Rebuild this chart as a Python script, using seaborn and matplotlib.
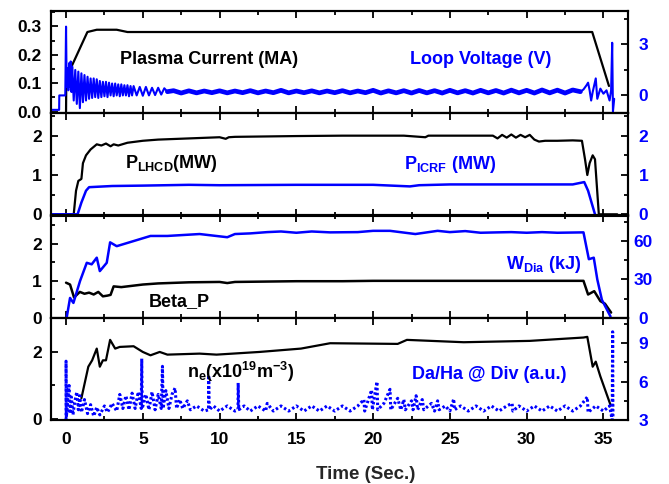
import matplotlib
matplotlib.use("Agg")
import matplotlib.pyplot as plt
from matplotlib.ticker import MultipleLocator
import seaborn as sns

# ---------------- data ----------------
# Panel 1: plasma current (MA, left) and loop voltage (V, right)
ip_t = [0.0, 0.02, 0.37, 1.39, 2.0, 3.3, 4.0, 10, 20, 30, 34.27, 35.36]
ip_v = [0.0, 0.14, 0.16, 0.28, 0.288, 0.288, 0.28, 0.28, 0.28, 0.28, 0.28, 0.09]

# loop voltage: start-up oscillation
vl_t = [-0.98, -0.45, -0.44, -0.05, 0.0, 0.04, 0.1, 0.15, 0.2, 0.25, 0.3, 0.35, 0.4, 0.5,
        0.6, 0.7, 0.8, 0.9, 1.0, 1.1, 1.2, 1.3, 1.4, 1.5, 1.6, 1.7, 1.8, 1.9, 2.0, 2.1,
        2.2, 2.3, 2.4, 2.5, 2.6, 2.7, 2.8, 2.9, 3.0, 3.1, 3.2, 3.3, 3.4, 3.5, 3.6, 3.7,
        3.8, 3.9, 4.0, 4.1, 4.2, 4.3, 4.4, 4.6, 4.8, 5.0, 5.2, 5.4, 5.6, 5.8, 6.0, 6.2,
        6.4, 6.6]
vl_v = [-0.85, -0.85, 0.0, 0.0, 4.05, 0.5, 1.6, 0.3, 1.9, 0.5, 2.0, 0.2, 1.7, -0.3,
        1.5, -0.5, 1.4, -0.75, 1.3, -0.4, 1.2, -0.3, 1.1, -0.2, 1.0, -0.15, 1.0, -0.1,
        0.95, -0.15, 0.85, -0.1, 0.8, -0.05, 0.8, -0.1, 0.75, 0.0, 0.7, -0.05, 0.7, 0.0,
        0.65, -0.05, 0.65, 0.0, 0.6, 0.0, 0.6, -0.05, 0.55, 0.0, 0.55, 0.0, 0.5, -0.02,
        0.5, 0.0, 0.45, 0.02, 0.45, 0.05, 0.42, 0.22]
# loop voltage: flat-top (noisy band)
vlf_t = [6.6, 7.0, 7.5, 8.0, 8.5, 9.0, 9.5, 10.0, 10.5, 11.0, 11.5, 12.0, 12.5, 13.0,
         13.5, 14.0, 14.5, 15.0, 15.5, 16.0, 16.5, 17.0, 17.5, 18.0, 18.5, 19.0, 19.5,
         20.0, 20.5, 21.0, 21.5, 22.0, 22.5, 23.0, 23.5, 24.0, 24.5, 25.0, 25.5, 26.0,
         26.5, 27.0, 27.5, 28.0, 28.5, 29.0, 29.5, 30.0, 30.5, 31.0, 31.5, 32.0, 32.5,
         33.0, 33.5]
vlf_v = [0.22, 0.28, 0.14, 0.27, 0.15, 0.26, 0.16, 0.27, 0.15, 0.26, 0.16, 0.28, 0.15,
         0.26, 0.16, 0.3, 0.15, 0.26, 0.16, 0.27, 0.15, 0.26, 0.16, 0.28, 0.15, 0.26,
         0.16, 0.3, 0.14, 0.27, 0.15, 0.28, 0.14, 0.29, 0.15, 0.28, 0.14, 0.3, 0.15,
         0.28, 0.14, 0.3, 0.15, 0.29, 0.14, 0.31, 0.15, 0.3, 0.14, 0.32, 0.15, 0.31,
         0.14, 0.32, 0.22]
# loop voltage: termination
vle_t = [33.5, 33.7, 33.9, 34.0, 34.1, 34.2, 34.3, 34.5, 34.6, 34.8, 35.0, 35.2, 35.4,
         35.5, 35.57, 35.62, 35.7]
vle_v = [0.22, 0.35, 0.6, 0.75, 0.3, -0.3, 0.2, 1.0, -0.2, 0.4, 0.1, 0.3, -0.3, 0.3,
         3.1, -0.95, -0.2]

# Panel 2: P_LHCD and P_ICRF (MW)
lh_t = [-0.98, 0.5, 0.65, 0.8, 1.0, 1.1, 1.3, 1.6, 2.0, 2.3, 2.6, 2.9, 3.1, 3.4, 4, 5, 6,
        8, 10, 10.4, 10.6, 11, 13, 15, 18, 20, 22, 23.4, 23.6, 26, 27.8, 28.1, 28.4, 28.7,
        29.0, 29.3, 29.6, 29.9, 30.2, 30.5, 30.8, 31.2, 32, 33, 33.6, 33.8, 33.95, 34.1,
        34.3, 34.45, 34.7, 35.0, 35.9]
lh_v = [0, 0, 0.6, 0.85, 0.9, 1.3, 1.5, 1.65, 1.78, 1.75, 1.8, 1.73, 1.78, 1.75, 1.82,
        1.87, 1.9, 1.93, 1.96, 1.92, 1.96, 1.97, 1.98, 1.99, 2.0, 2.0, 2.0, 1.96, 2.0, 2.0,
        2.0, 1.93, 2.02, 1.95, 2.03, 1.95, 2.02, 1.96, 2.02, 1.9, 1.85, 1.87, 1.87, 1.88,
        1.87, 1.4, 1.0, 1.3, 1.5, 1.4, 0.0, 0.0, 0.0]

ic_t = [-0.98, 0.75, 1.0, 1.3, 1.5, 2, 3, 5, 8, 10, 15, 20, 22.4, 23, 25, 28, 30, 33.0,
        33.75, 34.0, 34.45]
ic_v = [0, 0, 0.3, 0.6, 0.69, 0.7, 0.72, 0.73, 0.75, 0.74, 0.75, 0.75, 0.71, 0.74, 0.76,
        0.76, 0.76, 0.76, 0.82, 0.6, 0.0]

# Panel 3: Beta_P (left) and W_Dia (kJ, right)
bp_t = [0.0, 0.26, 0.52, 0.9, 1.2, 1.5, 1.8, 2.1, 2.4, 2.7, 2.9, 3.1, 3.6, 4.0, 5.0, 6.0,
        8.0, 10.0, 10.5, 11.0, 13, 15, 18, 20, 25, 30, 33.7, 34.0, 34.4, 34.8, 35.1, 35.5]
bp_v = [0.95, 0.9, 0.55, 0.7, 0.65, 0.68, 0.63, 0.7, 0.58, 0.6, 0.62, 0.85, 0.83, 0.85,
        0.9, 0.93, 0.96, 0.97, 0.94, 0.97, 0.98, 0.99, 0.99, 1.0, 1.0, 1.0, 1.0, 0.63, 0.72,
        0.45, 0.38, 0.14]

wd_t = [0.04, 0.26, 0.48, 0.91, 1.35, 1.67, 2.0, 2.2, 2.65, 2.87, 3.3, 4.4, 5.5, 6.6, 8.7,
        10.5, 11.0, 12.0, 13.1, 14.0, 15.0, 16.0, 17.2, 19.0, 20.0, 21.1, 22.75, 24.2, 25.0,
        26.0, 27.0, 28.1, 29.0, 30.0, 31.0, 32.0, 33.7, 34.05, 34.37, 34.6, 34.9, 35.46]
wd_v = [0, 15.5, 11.6, 28.7, 43, 41.8, 47, 36.5, 43, 59, 56, 60, 64, 64, 65.5, 63, 65.5,
        66, 67, 67.5, 66.5, 67.5, 66.8, 67, 68, 68, 65.5, 68, 67, 67.8, 66.5, 66.8, 67,
        66.5, 67, 66.5, 66.8, 45.8, 47, 30, 14, 1]

# Panel 4: n_e (1e19 m^-3, left) and Da/Ha at divertor (a.u., right)
ne_t = [1.0, 1.45, 1.7, 2.0, 2.2, 2.4, 2.6, 2.87, 3.2, 3.5, 4.4, 5.0, 5.5, 5.8, 6.1, 6.6,
        8.7, 9.8, 12.6, 15.3, 17.2, 21.6, 22.2, 25.9, 30.2, 33.7, 33.95, 34.3, 34.5, 34.8,
        35.46]
ne_v = [0.62, 1.56, 1.75, 2.1, 1.56, 1.75, 1.75, 2.36, 2.1, 2.15, 2.17, 2.0, 1.9, 1.95,
        2.0, 1.92, 1.95, 1.92, 2.0, 2.1, 2.26, 2.24, 2.36, 2.29, 2.33, 2.43, 2.45, 1.56,
        1.71, 1.27, 0.42]

da_t = [0.0, 0.0, 0.02, 0.1, 0.2, 0.25, 0.35, 0.45, 0.55, 0.7, 0.8, 0.9, 1.0, 1.2, 1.4,
        1.6, 1.8, 2.0, 2.2, 2.5, 2.7, 3.0, 3.3, 3.5, 3.7, 3.9, 4.1, 4.3, 4.5, 4.7, 4.9,
        4.93, 4.96, 5.2, 5.4, 5.6, 5.8, 6.0, 6.2, 6.28, 6.32, 6.5, 6.7, 6.9, 7.1, 7.2, 7.4,
        7.6, 7.9,
        8.1, 8.5, 9.0, 9.28, 9.29, 9.32, 9.6, 10.0, 10.5, 11.0, 11.2, 11.21, 11.25, 11.6,
        12.0, 12.5, 13.0, 13.1, 13.5, 14.0, 14.5, 15.0, 15.5, 16.0, 16.5, 17.0, 17.5,
        18.0, 18.5, 19.0, 19.4, 19.45, 19.9, 19.95, 20.25, 20.3, 20.7, 21.1, 21.15, 21.6,
        21.8, 22.0, 22.1, 22.5, 22.6, 22.8, 22.9, 23.2, 23.3, 23.8, 24.0, 24.2, 24.3,
        24.7, 25.0, 25.25, 25.3, 25.7, 26.2, 26.7, 27.2, 27.7, 28.2, 28.7, 29.05, 29.1,
        29.5, 30.0, 30.5, 31.0, 31.5, 32.0, 32.5, 33.0, 33.5, 33.95, 34.0, 34.5, 35.0,
        35.4, 35.57, 35.6, 35.62]
da_v = [3.0, 7.6, 3.2, 4.5, 5.7, 3.5, 4.8, 3.4, 4.3, 5.2, 3.8, 4.9, 3.6, 4.6, 3.5, 4.2,
        3.3, 4.0, 3.4, 4.1, 3.6, 4.3, 3.7, 5.0, 3.9, 4.9, 3.8, 5.1, 3.9, 5.2, 3.9, 7.8, 3.9,
        5.0, 3.8, 5.2, 3.8, 5.0, 3.9, 7.2, 3.9, 5.3, 3.9, 5.0, 5.5, 3.9, 4.6, 3.9, 4.5,
        3.8, 4.1, 3.7, 3.8, 6.5, 3.8, 4.1, 3.7, 4.1, 3.7, 3.8, 5.9, 3.8, 4.1,
        3.7, 4.1, 3.7, 4.3, 3.7, 4.1, 3.7, 4.1, 3.7, 4.1, 3.7, 4.1, 3.7,
        4.1, 3.7, 4.1, 4.6, 3.7, 5.35, 3.8, 6.0, 3.8, 4.3, 5.4, 3.8, 4.7,
        3.8, 4.6, 3.8, 4.5, 3.8, 4.9, 3.8, 4.6, 3.8, 4.3, 3.7, 4.5, 3.8,
        4.1, 3.7, 4.65, 3.8, 4.1, 3.7, 4.1, 3.7, 4.1, 3.7, 4.1, 4.3, 3.7,
        4.1, 3.7, 4.1, 3.7, 4.1, 3.7, 4.1, 3.7, 4.1, 4.8, 3.6, 4.1, 3.7,
        4.1, 3.0, 9.9, 3.2]

x_ticks = [0, 5, 10, 15, 20, 25, 30, 35]

# ---------------- style ----------------
sns.set_theme(style="ticks")
plt.rcParams.update({
    "font.family": ["Liberation Sans", "DejaVu Sans"],
    "font.weight": "bold",
    "mathtext.fontset": "custom",
    "mathtext.rm": "Liberation Sans:bold",
    "mathtext.it": "Liberation Sans:bold",
    "mathtext.bf": "Liberation Sans:bold",
    "mathtext.sf": "Liberation Sans:bold",
    "mathtext.default": "bf",
    "axes.linewidth": 1.5,
    "axes.edgecolor": "black",
})
BLUE = "#0000ff"
BLACK = "#000000"

fig, axes = plt.subplots(4, 1, figsize=(6.69, 4.84), dpi=100, sharex=True)
fig.patch.set_facecolor("white")
fig.subplots_adjust(left=51 / 669, right=628 / 669, top=1 - 11 / 484,
                    bottom=1 - 420 / 484, hspace=0)

twins = [ax.twinx() for ax in axes]

def line(ax, x, y, color, lw, **kw):
    sns.lineplot(x=x, y=y, ax=ax, color=color, lw=lw, sort=False,
                 estimator=None, legend=False, **kw)

line(axes[0], ip_t, ip_v, BLACK, 1.6)
line(twins[0], vl_t, vl_v, BLUE, 1.5)
line(twins[0], vlf_t, vlf_v, BLUE, 3.4)
line(twins[0], vle_t, vle_v, BLUE, 1.5)
line(axes[1], lh_t, lh_v, BLACK, 1.6)
line(twins[1], ic_t, ic_v, BLUE, 1.8)
line(axes[2], bp_t, bp_v, BLACK, 1.8)
line(twins[2], wd_t, wd_v, BLUE, 1.8)
line(axes[3], ne_t, ne_v, BLACK, 1.6)
line(twins[3], da_t, da_v, BLUE, 2.2, linestyle=(0, (0.8, 0.8)))

left_lims = [(-0.006, 0.354), (-0.03, 2.57), (0, 2.77), (-0.03, 3.02)]
left_major = [0.1, 1, 1, 2]
left_minor = [0.05, 0.5, 0.5, 1]
right_lims = [(-1.05, 4.97), (-0.03, 2.57), (0, 80), (3, 11)]
right_major = [3, 1, 30, 3]
right_minor = [1.5, 0.5, 15, 1.5]

for i, (ax, tw) in enumerate(zip(axes, twins)):
    ax.set_xlim(-0.98, 36.6)
    ax.set_ylim(*left_lims[i])
    tw.set_ylim(*right_lims[i])
    ax.xaxis.set_major_locator(MultipleLocator(5))
    ax.xaxis.set_minor_locator(MultipleLocator(2.5))
    ax.yaxis.set_major_locator(MultipleLocator(left_major[i]))
    ax.yaxis.set_minor_locator(MultipleLocator(left_minor[i]))
    tw.yaxis.set_major_locator(MultipleLocator(right_major[i]))
    tw.yaxis.set_minor_locator(MultipleLocator(right_minor[i]))
    ax.set_ylabel("")
    tw.set_ylabel("")
    ax.set_xlabel("")
    ax.tick_params(axis="both", which="both", direction="in", width=1.3,
                   labelsize=12.5, colors=BLACK)
    ax.tick_params(axis="both", which="major", length=5)
    ax.tick_params(axis="both", which="minor", length=3)
    ax.tick_params(axis="x", which="both", top=True, bottom=True, pad=9)
    ax.tick_params(axis="y", which="both", left=True, right=False, pad=6.5)
    tw.tick_params(axis="y", which="both", direction="in", width=1.3,
                   labelsize=12.5, color=BLACK, labelcolor=BLUE, pad=11)
    tw.tick_params(axis="y", which="major", length=5)
    tw.tick_params(axis="y", which="minor", length=3)
    for sp in list(ax.spines.values()) + list(tw.spines.values()):
        sp.set_linewidth(1.5)
        sp.set_color(BLACK)

axes[3].set_xticks(x_ticks)
axes[3].set_xlabel("Time (Sec.)", fontsize=13.5, fontweight="bold", labelpad=13)
axes[3].xaxis.label.set_x(0.545)

def ftext(x, y, s, color):
    fig.text(x / 669, 1 - y / 484, s, color=color, fontsize=13, fontweight="bold",
             ha="center", va="baseline")

ftext(209, 64, "Plasma Current (MA)", BLACK)
ftext(481, 64, "Loop Voltage (V)", BLUE)
ftext(171, 168, r"P$_{LHCD}$(MW)", BLACK)
ftext(450, 169, r"P$_{ICRF}$ (MW)", BLUE)
ftext(179, 306, "Beta_P", BLACK)
ftext(544, 269, r"W$_{Dia}$ (kJ)", BLUE)
ftext(241, 378, r"n$_{e}$(x10$^{19}$m$^{-3}$)", BLACK)
ftext(489, 379, "Da/Ha @ Div (a.u.)", BLUE)

fig.canvas.draw()
for tw in twins:
    plt.setp(tw.get_yticklabels(), ha="center")

fig.savefig("out.png", dpi=100, facecolor="white")
